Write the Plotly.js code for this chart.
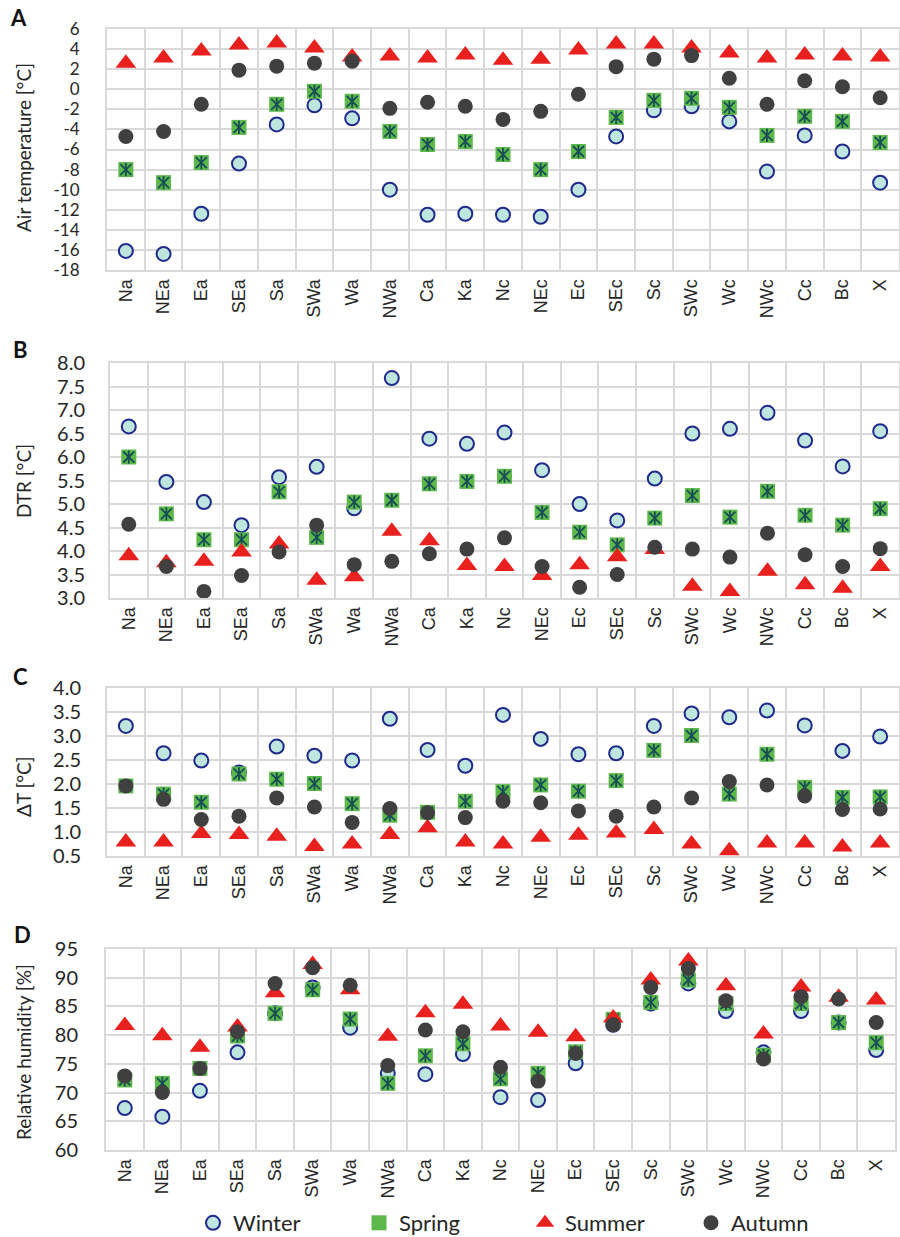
<!DOCTYPE html>
<html>
<head>
<meta charset="utf-8">
<script src="https://cdn.plot.ly/plotly-3.0.1.min.js"></script>
<style>html,body{margin:0;padding:0;background:#fff;}#chart{width:900px;height:1237px;}</style>
</head>
<body>
<div id="chart"></div>
<script>
const categories = ["Na","NEa","Ea","SEa","Sa","SWa","Wa","NWa","Ca","Ka","Nc","NEc","Ec","SEc","Sc","SWc","Wc","NWc","Cc","Bc","X"];
const seasons = ["Winter","Spring","Summer","Autumn"];

// Panel A: Air temperature [°C]
const airWinter = [-16.1,-16.4,-12.4,-7.4,-3.5,-1.6,-2.9,-10.0,-12.5,-12.4,-12.5,-12.7,-10.0,-4.7,-2.1,-1.7,-3.2,-8.2,-4.6,-6.2,-9.3];
const airSpring = [-8.0,-9.3,-7.3,-3.8,-1.5,-0.2,-1.2,-4.2,-5.5,-5.2,-6.5,-8.0,-6.2,-2.8,-1.1,-0.9,-1.8,-4.6,-2.7,-3.2,-5.3];
const airSummer = [2.6,3.1,3.8,4.4,4.6,4.1,3.2,3.3,3.1,3.4,2.9,3.0,3.9,4.5,4.5,4.1,3.6,3.1,3.4,3.3,3.2];
const airAutumn = [-4.7,-4.2,-1.5,1.9,2.3,2.6,2.8,-1.9,-1.3,-1.7,-3.0,-2.2,-0.5,2.25,3.0,3.35,1.1,-1.5,0.85,0.25,-0.85];

// Panel B: DTR [°C]
const dtrWinter = [6.65,5.47,5.04,4.55,5.57,5.79,4.91,7.68,6.39,6.28,6.52,5.72,5.0,4.65,5.54,6.5,6.6,6.94,6.35,5.8,6.55];
const dtrSpring = [6.0,4.79,4.24,4.24,5.26,4.29,5.04,5.08,5.43,5.48,5.59,4.82,4.4,4.13,4.7,5.18,4.72,5.27,4.76,4.55,4.9];
const dtrSummer = [3.9,3.75,3.78,3.98,4.15,3.38,3.45,4.42,4.22,3.69,3.67,3.48,3.71,3.88,4.03,3.25,3.14,3.57,3.28,3.21,3.67];
const dtrAutumn = [4.57,3.67,3.14,3.48,3.98,4.55,3.71,3.78,3.94,4.04,4.28,3.67,3.23,3.5,4.08,4.04,3.87,4.38,3.92,3.67,4.05];

// Panel C: ΔT [°C]
const dtWinter = [3.21,2.64,2.49,2.24,2.78,2.59,2.49,3.36,2.71,2.38,3.44,2.94,2.62,2.64,3.21,3.47,3.39,3.53,3.22,2.69,2.99];
const dtSpring = [1.96,1.79,1.62,2.21,2.1,2.01,1.59,1.35,1.41,1.64,1.84,1.98,1.85,2.07,2.7,3.01,1.79,2.62,1.93,1.72,1.73];
const dtSummer = [0.79,0.79,0.97,0.95,0.91,0.7,0.75,0.95,1.09,0.79,0.75,0.89,0.93,0.98,1.05,0.75,0.61,0.77,0.77,0.69,0.77];
const dtAutumn = [1.96,1.68,1.26,1.33,1.71,1.52,1.2,1.49,1.4,1.3,1.64,1.61,1.44,1.33,1.52,1.71,2.05,1.98,1.75,1.47,1.48];

// Panel D: Relative humidity [%]
const rhWinter = [67.3,65.8,70.3,77.0,83.8,88.3,81.3,73.35,73.2,76.7,69.2,68.7,75.1,81.8,85.5,89.0,84.2,77.0,84.2,82.2,77.4];
const rhSpring = [72.2,71.6,74.2,79.85,83.8,87.9,82.8,71.6,76.4,78.5,72.4,73.35,77.1,82.75,85.7,89.6,85.5,76.5,85.5,82.2,78.7];
const rhSummer = [81.7,79.9,77.9,81.4,87.4,92.3,87.9,79.8,83.9,85.4,81.6,80.5,79.7,83.0,89.6,92.9,88.6,80.2,88.4,86.6,86.1];
const rhAutumn = [72.9,70.0,74.2,80.6,89.0,91.75,88.7,74.7,80.9,80.6,74.4,72.0,76.8,81.8,88.3,91.6,86.0,75.85,86.7,86.3,82.2];

// Tick labels
const airTicks = [6,4,2,0,-2,-4,-6,-8,-10,-12,-14,-16,-18];
const airTickText = ["6","4","2","0","-2","-4","-6","-8","-10","-12","-14","-16","-18"];
const dtrTicks = [3.0,3.5,4.0,4.5,5.0,5.5,6.0,6.5,7.0,7.5,8.0];
const dtTicks = [0.5,1.0,1.5,2.0,2.5,3.0,3.5,4.0];
const rhTicks = [60,65,70,75,80,85,90,95];

const panelLetters = ["A","B","C","D"];
const axisTitles = ["Air temperature [°C]","DTR [°C]","ΔT [°C]","Relative humidity [%]"];

const W = 900, H = 1237;
const py = v => 1 - v / H;
const px = v => v / W;

const panels = [
  {data:[airWinter,airSpring,airSummer,airAutumn], ticks:airTicks, text:airTickText, range:[-18,6], top:29, bot:270, left:107, right:899, titleY:148, letterY:18, letterX:18, fs:17, sd:22},
  {data:[dtrWinter,dtrSpring,dtrSummer,dtrAutumn], ticks:dtrTicks, text:dtrTicks.map(v=>v.toFixed(1)), range:[3,8], top:363, bot:598, left:110, right:899, titleY:481, letterY:350, letterX:20, fs:20, sd:19},
  {data:[dtWinter,dtSpring,dtSummer,dtAutumn], ticks:dtTicks, text:dtTicks.map(v=>v.toFixed(1)), range:[0.5,4], top:688, bot:856, left:107, right:899, titleY:787, letterY:676, letterX:20, fs:20, sd:20},
  {data:[rhWinter,rhSpring,rhSummer,rhAutumn], ticks:rhTicks, text:rhTicks.map(String), range:[60,95], top:949, bot:1150, left:106, right:895, titleY:1052, letterY:934, letterX:22, fs:20, sd:22}
];

const winterM = {symbol:"circle", size:14, color:"#bfe5df", line:{color:"#1f2a8c", width:2}};
const springM = {symbol:"square", size:15, color:"#5cb84b", line:{width:0}};
const springX = {symbol:"x-thin-open", size:11, color:"#174d55", line:{color:"#174d55", width:1.8}};
const springV = {symbol:"line-ns-open", size:9.5, color:"#174d55", line:{color:"#174d55", width:1.8}};
const summerM = {symbol:"triangle-up", size:18, color:"#e8211e", line:{width:0}};
const autumnM = {symbol:"circle", size:15, color:"#404040", line:{width:0}};

const traces = [];
const layout = {
  width: W, height: H,
  margin: {l:0, r:0, t:0, b:0, autoexpand:false},
  paper_bgcolor: "#fff", plot_bgcolor: "#fff",
  showlegend: true,
  font: {family: "Lato, sans-serif", color: "#262626"},
  legend: {orientation:"h", x:px(193), y:py(1223), xanchor:"left", yanchor:"middle",
           bgcolor:"rgba(0,0,0,0)", borderwidth:0,
           font:{family:"Lato, sans-serif", size:22, color:"#262626"}, entrywidth:121, entrywidthmode:"pixels",
           traceorder:"normal", itemclick:false, itemdoubleclick:false},
  annotations: [],
  hovermode: false
};

panels.forEach((p, i) => {
  const n = i === 0 ? "" : String(i + 1);
  const xa = "x" + n, ya = "y" + n;
  const leg = i === 3;
  const [w, sp, su, au] = p.data;
  traces.push({type:"scatter", mode:"markers", x:categories, y:w, xaxis:xa, yaxis:ya, name:seasons[0], showlegend:leg, marker:winterM, cliponaxis:false});
  traces.push({type:"scatter", mode:"markers", x:categories, y:sp, xaxis:xa, yaxis:ya, name:seasons[1], showlegend:leg, marker:springM, cliponaxis:false});
  traces.push({type:"scatter", mode:"markers", x:categories, y:sp, xaxis:xa, yaxis:ya, name:seasons[1], showlegend:false, marker:springX, cliponaxis:false});
  traces.push({type:"scatter", mode:"markers", x:categories, y:sp, xaxis:xa, yaxis:ya, name:seasons[1], showlegend:false, marker:springV, cliponaxis:false});
  traces.push({type:"scatter", mode:"markers", x:categories, y:su, xaxis:xa, yaxis:ya, name:seasons[2], showlegend:leg, marker:summerM, cliponaxis:false});
  traces.push({type:"scatter", mode:"markers", x:categories, y:au, xaxis:xa, yaxis:ya, name:seasons[3], showlegend:leg, marker:autumnM, cliponaxis:false});

  layout["xaxis" + n] = {
    domain:[px(p.left), px(p.right)], anchor:ya, automargin:false,
    type:"category", categoryorder:"array", categoryarray:categories,
    range:[-0.5, categories.length - 0.5], autorange:false,
    tickson:"boundaries", ticks:"", showgrid:true, gridcolor:"#d9d9d9", gridwidth:2,
    showline:true, mirror:true, linecolor:"#d9d9d9", linewidth:2,
    tickangle:-90, tickfont:{family:"Liberation Sans, Arial, sans-serif", size:18, color:"#262626"},
    fixedrange:true
  };
  layout["yaxis" + n] = {
    domain:[py(p.bot), py(p.top)], anchor:xa, automargin:false,
    range:p.range, autorange:false, tickmode:"array", tickvals:p.ticks, ticktext:p.text,
    showgrid:true, gridcolor:"#d9d9d9", gridwidth:2, zeroline:false,
    showline:true, mirror:true, linecolor:"#d9d9d9", linewidth:2,
    ticks:"", ticklabelstandoff:p.sd,
    tickfont:{family:"Lato, sans-serif", size:p.fs, color:"#262626"},
    fixedrange:true
  };
  layout.annotations.push({text:"<b>" + panelLetters[i] + "</b>", xref:"paper", yref:"paper", x:px(p.letterX), y:py(p.letterY),
    xanchor:"center", yanchor:"middle", showarrow:false, font:{family:"Lato, sans-serif", size:22, color:"#111"}});
  layout.annotations.push({text:axisTitles[i], xref:"paper", yref:"paper", x:px(23), y:py(p.titleY),
    xanchor:"center", yanchor:"middle", textangle:-90, showarrow:false, font:{family:"Lato, sans-serif", size:19, color:"#262626"}});
});

Plotly.newPlot("chart", traces, layout, {staticPlot:true, displayModeBar:false});
</script>
</body>
</html>
